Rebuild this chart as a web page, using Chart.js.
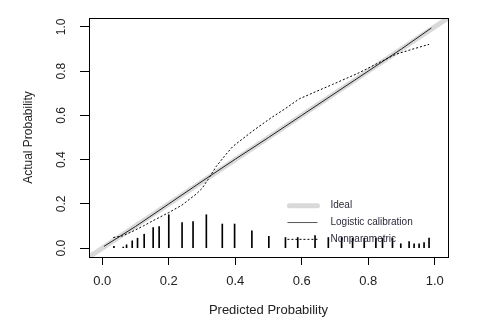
<!DOCTYPE html>
<html>
<head>
<meta charset="utf-8">
<script src="https://cdn.jsdelivr.net/npm/chart.js@4/dist/chart.umd.min.js"></script>
<style>
  html, body { margin: 0; padding: 0; background: #fff; }
  #wrap { width: 501px; height: 323px; }
</style>
</head>
<body>
<div id="wrap"><canvas id="calib" width="501" height="323"></canvas></div>
<script>
/* calibration plot: ideal, logistic fit, nonparametric smoother, rug of predictions */

var TICKS = [0, 0.2, 0.4, 0.6, 0.8, 1.0];
var AXIS_MIN = -0.04, AXIS_MAX = 1.04;

var IDEAL_X = [-0.04, 1.04];
var IDEAL_Y = [-0.04, 1.04];

var LOGIT_X = [0.005, 0.1, 0.2, 0.3, 0.4, 0.5, 0.6, 0.7, 0.8, 0.9, 0.99];
var LOGIT_Y = [0.008, 0.098, 0.2, 0.302, 0.402, 0.5, 0.6, 0.7, 0.8, 0.9, 0.995];

var NONPAR_X = [0.033, 0.06, 0.09, 0.123, 0.16, 0.198, 0.24, 0.283, 0.30, 0.318, 0.343, 0.37,
                0.393, 0.453, 0.508, 0.55, 0.593, 0.693, 0.763, 0.793, 0.833, 0.883, 0.933, 0.983];
var NONPAR_Y = [0.048, 0.055, 0.075, 0.10, 0.13, 0.159, 0.195, 0.245, 0.27, 0.31, 0.37, 0.42,
                0.46, 0.53, 0.589, 0.63, 0.675, 0.74, 0.786, 0.808, 0.839, 0.876, 0.899, 0.921];

// rug / histogram of predicted probabilities (spike heights)
var RUG_X = [0.035, 0.063, 0.073, 0.09, 0.106, 0.126, 0.153, 0.171, 0.20, 0.24, 0.273, 0.313,
             0.361, 0.398, 0.45, 0.501, 0.551, 0.588, 0.64, 0.68, 0.72, 0.753, 0.788, 0.823,
             0.843, 0.873, 0.898, 0.923, 0.938, 0.953, 0.968, 0.983];
var RUG_H = [0.008, 0.005, 0.015, 0.033, 0.045, 0.063, 0.093, 0.098, 0.151, 0.116, 0.12, 0.151,
             0.109, 0.109, 0.078, 0.053, 0.048, 0.048, 0.057, 0.048, 0.048, 0.045, 0.045, 0.045,
             0.045, 0.045, 0.02, 0.03, 0.02, 0.02, 0.025, 0.045];

var LEGEND = [
  { label: 'Ideal',                color: '#d9d9d9', width: 5, dash: [] },
  { label: 'Logistic calibration', color: '#555555', width: 1, dash: [] },
  { label: 'Nonparametric',        color: '#000000', width: 1, dash: [2, 2] }
];
var LEGEND_X = 0.557;                   // data units, left end of legend swatch
var LEGEND_Y = [0.194, 0.118, 0.042];   // data units, row centres

function pts(xs, ys) {
  return xs.map(function (x, i) { return { x: x, y: ys[i] }; });
}

var FONT = 'Liberation Sans, Arial, sans-serif';

var boxPlugin = {
  id: 'rbox',
  afterDatasetsDraw: function (chart) {
    var ctx = chart.ctx, a = chart.chartArea;
    var xs = chart.scales.x, ys = chart.scales.y;
    ctx.save();
    // legend
    var x0 = xs.getPixelForValue(LEGEND_X);
    ctx.font = '10px ' + FONT;
    ctx.textBaseline = 'middle';
    ctx.textAlign = 'left';
    LEGEND.forEach(function (it, i) {
      var y = ys.getPixelForValue(LEGEND_Y[i]);
      ctx.strokeStyle = it.color;
      ctx.lineWidth = it.width;
      ctx.lineCap = it.width > 2 ? 'round' : 'butt';
      ctx.setLineDash(it.dash);
      ctx.beginPath();
      ctx.moveTo(x0 + (it.width > 2 ? 2 : 0), y + 0.5);
      ctx.lineTo(x0 + 30, y + 0.5);
      ctx.stroke();
      ctx.setLineDash([]);
      ctx.fillStyle = '#2a2a3a';
      ctx.fillText(it.label, x0 + 43, y);
    });
    // plot frame
    ctx.strokeStyle = '#000';
    ctx.lineWidth = 1;
    ctx.strokeRect(Math.round(a.left) + 0.5, Math.round(a.top) + 0.5,
                   Math.round(a.right - a.left), Math.round(a.bottom - a.top));
    ctx.restore();
  }
};

new Chart(document.getElementById('calib').getContext('2d'), {
  type: 'scatter',
  data: {
    datasets: [
      { type: 'line', label: 'Nonparametric', data: pts(NONPAR_X, NONPAR_Y),
        borderColor: '#000', borderWidth: 1, borderDash: [2, 2], pointRadius: 0,
        fill: false, tension: 0, order: 1 },
      { type: 'line', label: 'Logistic calibration', data: pts(LOGIT_X, LOGIT_Y),
        borderColor: '#222', borderWidth: 1, pointRadius: 0, fill: false, tension: 0, order: 2 },
      { type: 'bar', label: 'rug', data: pts(RUG_X, RUG_H),
        backgroundColor: '#000', borderWidth: 0, barThickness: 1, order: 3 },
      { type: 'line', label: 'Ideal', data: pts(IDEAL_X, IDEAL_Y),
        borderColor: '#d9d9d9', borderWidth: 5, pointRadius: 0, fill: false, order: 4 }
    ]
  },
  options: {
    responsive: false,
    animation: false,
    layout: { padding: { top: 18, right: 53, left: 0, bottom: 0 } },
    plugins: { legend: { display: false }, tooltip: { enabled: false } },
    scales: {
      x: {
        type: 'linear', min: AXIS_MIN, max: AXIS_MAX, offset: false,
        afterBuildTicks: function (s) { s.ticks = TICKS.map(function (v) { return { value: v }; }); },
        afterFit: function (s) { s.height = 66; },
        grid: { offset: false, drawOnChartArea: false, drawTicks: true, tickLength: 8, color: '#000', lineWidth: 1 },
        border: { display: false },
        ticks: { padding: 9, color: '#222', font: { family: FONT, size: 13 },
                 maxRotation: 0, minRotation: 0,
                 callback: function (v) { return v.toFixed(1); } },
        title: { display: true, text: 'Predicted Probability', color: '#222',
                 font: { family: FONT, size: 13 }, padding: { top: 0, bottom: 5 } }
      },
      y: {
        type: 'linear', min: AXIS_MIN, max: AXIS_MAX,
        afterBuildTicks: function (s) { s.ticks = TICKS.map(function (v) { return { value: v }; }); },
        afterFit: function (s) { s.width = 89; },
        grid: { drawOnChartArea: false, drawTicks: true, tickLength: 9, color: '#000', lineWidth: 1 },
        border: { display: false },
        ticks: { padding: 10, color: '#222', font: { family: FONT, size: 12 },
                 minRotation: 90, maxRotation: 90, crossAlign: 'center',
                 callback: function (v) { return v.toFixed(1); } },
        title: { display: true, text: 'Actual Probability', color: '#222',
                 font: { family: FONT, size: 12 }, padding: { top: 21, bottom: 0 } }
      }
    }
  },
  plugins: [boxPlugin]
});
</script>
</body>
</html>
